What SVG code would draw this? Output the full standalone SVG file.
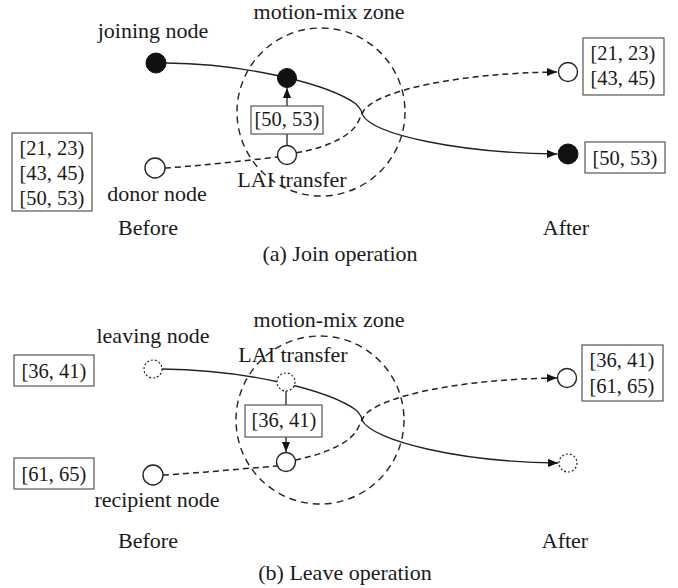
<svg xmlns="http://www.w3.org/2000/svg" width="678" height="588" viewBox="0 0 678 588">
<style>
.t{font-family:"Liberation Serif","Times New Roman",serif;font-size:22px;fill:#1a1a1a;text-anchor:middle}
.b{font-size:20.5px}
.box{fill:#fff;stroke:#555;stroke-width:1.2}
.solid{fill:none;stroke:#222;stroke-width:1.3}
.dash{fill:none;stroke:#222;stroke-width:1.5;stroke-dasharray:6,4}
.zone{fill:none;stroke:#222;stroke-width:1.4;stroke-dasharray:7,5}
.filled{fill:#111;stroke:#111;stroke-width:1}
.hollow{fill:#fff;stroke:#222;stroke-width:1.4}
.dotted{fill:#fff;stroke:#222;stroke-width:1.2;stroke-dasharray:2,2}
</style>
<defs>
<marker id="arr" markerUnits="userSpaceOnUse" markerWidth="11" markerHeight="9" refX="10" refY="4" orient="auto">
<path d="M0,0 L10,4 L0,8 z" fill="#111"/>
</marker>
</defs>
<rect width="678" height="588" fill="#fff"/>

<!-- Panel (a) -->
<g id="zone-a"><circle class="zone" cx="321" cy="112" r="84"/><text class="t" x="329" y="19">motion-mix zone</text></g>
<g id="connectors-a">
<path class="solid" d="M166,63 C250,64 330,85 356,104 Q362,110 362,114 C372,135 460,153 557,154" marker-end="url(#arr)"/>
<path class="dash" d="M165,168 C200,166 250,160 278,157"/>
<path class="dash" d="M296,153 C330,147 352,135 358,122 Q362,114 364,110 C380,90 460,73 557,72" marker-end="url(#arr)"/>
<line class="solid" x1="287" y1="146" x2="287" y2="88" marker-end="url(#arr)"/>
</g>
<g id="joining-node"><circle class="filled" cx="156" cy="63" r="10"/><text class="t" x="153" y="38">joining node</text></g>
<g id="mid-node-a"><circle class="filled" cx="287" cy="78" r="9.5"/></g>
<g id="transfer-a"><rect class="box" x="251" y="106" width="72" height="28"/><text class="t b" x="287" y="126">[50, 53)</text></g>
<g id="hollow-mid-a"><circle class="hollow" cx="287" cy="155" r="9.5"/><text class="t" x="292" y="187">LAI transfer</text></g>
<g id="donor-node"><circle class="hollow" cx="155" cy="168" r="10"/><text class="t" x="157" y="201">donor node</text></g>
<g id="left-box-a"><rect class="box" x="12" y="133" width="80" height="78"/>
<text class="t b" x="52" y="155">[21, 23)</text><text class="t b" x="52" y="180">[43, 45)</text><text class="t b" x="52" y="205">[50, 53)</text></g>
<g id="after-hollow-a"><circle class="hollow" cx="568" cy="72" r="9.5"/><rect class="box" x="583" y="38" width="81" height="57"/>
<text class="t b" x="623" y="60">[21, 23)</text><text class="t b" x="623" y="85">[43, 45)</text></g>
<g id="after-filled-a"><circle class="filled" cx="568" cy="154" r="10"/><rect class="box" x="585" y="142" width="80" height="31"/>
<text class="t b" x="625" y="165">[50, 53)</text></g>
<g id="labels-a"><text class="t" x="148" y="235">Before</text><text class="t" x="566" y="235">After</text><text class="t" x="340" y="261">(a) Join operation</text></g>

<!-- Panel (b) -->
<g id="zone-b"><circle class="zone" cx="320" cy="420" r="84"/><text class="t" x="329" y="327">motion-mix zone</text></g>
<g id="connectors-b">
<path class="solid" d="M162,369 C250,370 330,391 356,410 Q362,416 362,420 C372,441 460,462 558,463" marker-end="url(#arr)"/>
<path class="dash" d="M163,475 C200,473 250,468 277,466"/>
<path class="dash" d="M295,460 C330,453 352,441 358,428 Q362,420 364,416 C380,396 460,379 557,378" marker-end="url(#arr)"/>
<line class="solid" x1="286" y1="391" x2="286" y2="452" marker-end="url(#arr)"/>
</g>
<g id="leaving-node"><circle class="dotted" cx="153" cy="369" r="9"/><text class="t" x="153" y="343">leaving node</text></g>
<g id="left-box-b1"><rect class="box" x="14" y="355" width="80" height="31"/><text class="t b" x="54" y="378">[36, 41)</text></g>
<g id="mid-node-b"><circle class="dotted" cx="286" cy="382" r="9"/><text class="t" x="293" y="362">LAI transfer</text></g>
<g id="transfer-b"><rect class="box" x="245" y="405" width="77" height="32"/><text class="t b" x="284" y="427">[36, 41)</text></g>
<g id="hollow-mid-b"><circle class="hollow" cx="286" cy="462" r="9.5"/></g>
<g id="recipient-node"><circle class="hollow" cx="153" cy="475" r="10"/><text class="t" x="157" y="507">recipient node</text></g>
<g id="left-box-b2"><rect class="box" x="14" y="458" width="80" height="31"/><text class="t b" x="54" y="481">[61, 65)</text></g>
<g id="after-hollow-b"><circle class="hollow" cx="567" cy="378" r="9.5"/><rect class="box" x="582" y="345" width="81" height="56"/>
<text class="t b" x="622" y="367">[36, 41)</text><text class="t b" x="622" y="393">[61, 65)</text></g>
<g id="after-dotted-b"><circle class="dotted" cx="568" cy="463" r="9"/></g>
<g id="labels-b"><text class="t" x="148" y="548">Before</text><text class="t" x="565" y="548">After</text><text class="t" x="345" y="580">(b) Leave operation</text></g>
</svg>
